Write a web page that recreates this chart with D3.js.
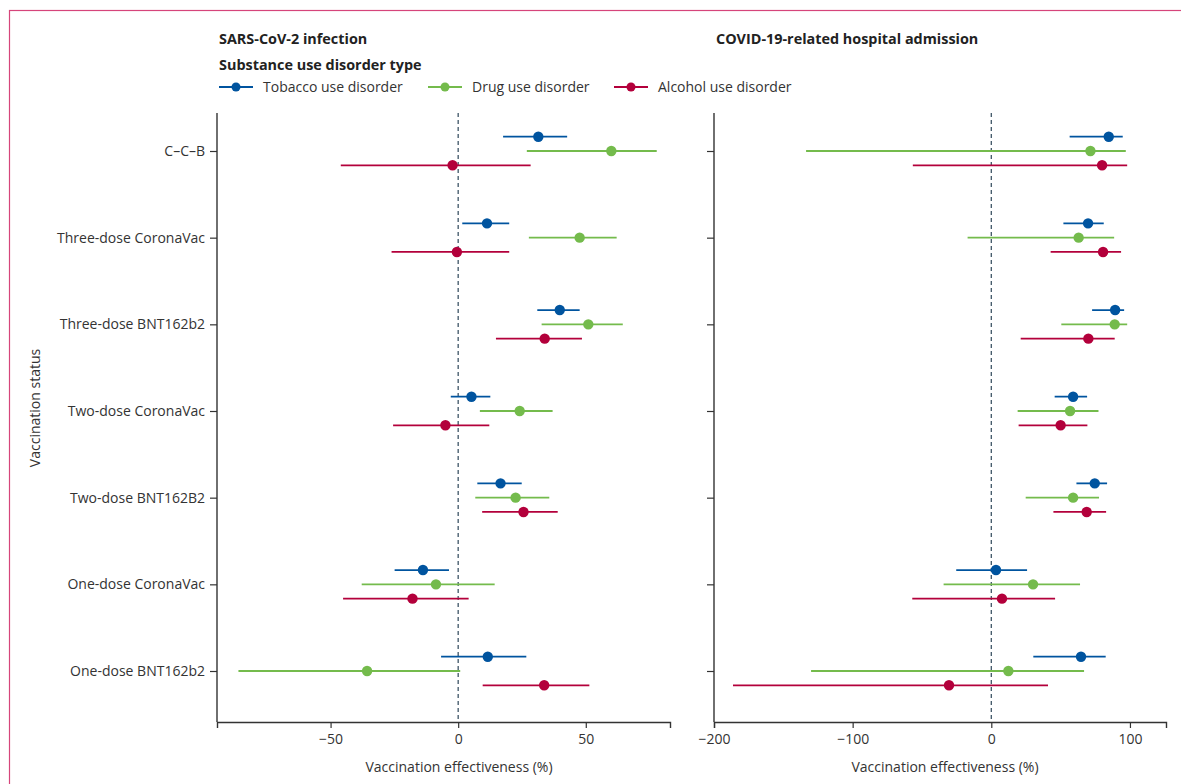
<!DOCTYPE html>
<html>
<head>
<meta charset="utf-8">
<script src="https://cdn.jsdelivr.net/npm/d3@7"></script>
<style>
  body { margin: 0; background: #fff; }
  svg { font-family: 'Open Sans', sans-serif; }
  .tick text { font-size: 14px; fill: #333; font-family: 'Open Sans', sans-serif; }
  .title { font-size: 14.4px; font-weight: 700; fill: #222; }
  .legend text { font-size: 14px; fill: #333; }
  .axisLabel { font-size: 14px; fill: #333; }
</style>
</head>
<body>
<svg id="chart"></svg>
<script>
// vaccination status categories, top to bottom
const categories = [
  'C–C–B',
  'Three-dose CoronaVac',
  'Three-dose BNT162b2',
  'Two-dose CoronaVac',
  'Two-dose BNT162B2',
  'One-dose CoronaVac',
  'One-dose BNT162b2',
];

const seriesNames = ['Tobacco use disorder', 'Drug use disorder', 'Alcohol use disorder'];

// [estimate, lower CI, upper CI] per category
const infectionTobacco = [[31.4, 17.6, 42.7], [11.3, 1.6, 20], [39.8, 31, 47.6], [5.2, -2.9, 12.6], [16.6, 7.5, 24.9], [-13.8, -24.9, -3.6], [11.6, -6.7, 26.7]];
const infectionDrug = [[60, 26.9, 77.8], [47.6, 27.7, 62.1], [51, 32.7, 64.5], [24.1, 8.5, 37], [22.5, 6.7, 35.7], [-8.7, -37.8, 14.3], [-35.7, -86.1, 0.8]];
const infectionAlcohol = [[-2.2, -46, 28.4], [-0.5, -26.1, 20], [33.9, 14.8, 48.5], [-5, -25.5, 12.2], [25.6, 9.4, 39], [-17.9, -45.1, 4.1], [33.7, 9.6, 51.4]];

const hospitalTobacco = [[84.7, 56.5, 94.8], [69.8, 52, 81.1], [89.3, 72.7, 95.8], [59, 45.7, 69.1], [74.6, 61.4, 83.5], [3.4, -25.3, 25.8], [64.7, 30.3, 82.5]];
const hospitalDrug = [[71.5, -133.6, 97], [63, -17.1, 88.6], [89, 50.5, 98], [56.8, 19, 77.3], [59, 24.8, 77.7], [30.1, -34.4, 64], [12.3, -130, 66.9]];
const hospitalAlcohol = [[79.9, -56.6, 98], [80.6, 42.8, 93.6], [70, 21.2, 89], [50, 19.7, 69.3], [68.8, 44.8, 82.8], [7.7, -57, 46], [-30.5, -186.3, 40.9]];

const infectionTicks = [-50, 0, 50];
const hospitalTicks = [-200, -100, 0, 100];

const colors = ['#00549f', '#74bb4c', '#b3003b'];

const width = 1181, height = 784;
const svg = d3.select('#chart').attr('width', width).attr('height', height);

// outer frame
svg.append('rect')
  .attr('x', 9.5).attr('y', 10.5)
  .attr('width', width + 20).attr('height', height + 20)
  .attr('fill', 'none').attr('stroke', '#d6457b').attr('stroke-width', 1.2);

const axisTop = 113, axisBottom = 722;
const y = d3.scalePoint().domain(categories).range([151, 671]);
const offset = 14.3;

const panels = [
  { title: 'SARS-CoV-2 infection', left: 217, right: 670, domain: [-94.5, 83], ticks: infectionTicks,
    series: [infectionTobacco, infectionDrug, infectionAlcohol], labels: true, labelX: 459 },
  { title: 'COVID-19-related hospital admission', left: 714, right: 1166, domain: [-200, 126], ticks: hospitalTicks,
    series: [hospitalTobacco, hospitalDrug, hospitalAlcohol], labels: false, labelX: 945 },
];

panels.forEach(p => {
  const x = d3.scaleLinear().domain(p.domain).range([p.left, p.right]);
  const g = svg.append('g');

  // x axis
  g.append('g')
    .attr('transform', `translate(0,${axisBottom})`)
    .call(d3.axisBottom(x).tickValues(p.ticks).tickSizeOuter(0).tickSize(6).tickPadding(6)
      .tickFormat(d => d < 0 ? '−' + Math.abs(d) : d))
    .attr('font-family', null).attr('font-size', null)
    .call(a => a.select('.domain').attr('stroke', '#333').attr('stroke-width', 1.4))
    .call(a => a.selectAll('.tick line').attr('stroke', '#333').attr('stroke-width', 1.2));

  // y axis
  const yAxis = g.append('g').attr('transform', `translate(${p.left},0)`)
    .call(d3.axisLeft(y).tickSizeOuter(0).tickSize(7).tickPadding(5)
      .tickFormat(p.labels ? d => d : () => ''))
    .attr('font-family', null).attr('font-size', null);
  yAxis.select('.domain').attr('d', `M0,${axisTop}V${axisBottom}`).attr('stroke', '#333').attr('stroke-width', 1.4);
  yAxis.selectAll('.tick line').attr('stroke', '#333').attr('stroke-width', 1.2);

  // reference line at 0
  g.append('line')
    .attr('x1', x(0)).attr('x2', x(0))
    .attr('y1', axisTop).attr('y2', axisBottom)
    .attr('stroke', '#3e5566').attr('stroke-width', 1.3).attr('stroke-dasharray', '4,3');

  p.series.forEach((values, si) => {
    const dy = (si - 1) * offset;
    const sg = g.append('g');
    sg.selectAll('line.ci').data(values).join('line')
      .attr('class', 'ci')
      .attr('x1', d => x(d[1])).attr('x2', d => x(d[2]))
      .attr('y1', (d, i) => y(categories[i]) + dy).attr('y2', (d, i) => y(categories[i]) + dy)
      .attr('stroke', colors[si]).attr('stroke-width', 1.8);
    sg.selectAll('circle').data(values).join('circle')
      .attr('cx', d => x(d[0]))
      .attr('cy', (d, i) => y(categories[i]) + dy)
      .attr('r', 5.2).attr('fill', colors[si]);
  });

  svg.append('text').attr('class', 'title')
    .attr('x', p.left + 2).attr('y', 44).text(p.title);

  svg.append('text').attr('class', 'axisLabel')
    .attr('x', p.labelX).attr('y', 772).attr('text-anchor', 'middle')
    .text('Vaccination effectiveness (%)');
});

// y axis label
svg.append('text').attr('class', 'axisLabel')
  .attr('transform', 'translate(40,408) rotate(-90)')
  .attr('text-anchor', 'middle')
  .text('Vaccination status');

// legend
svg.append('text').attr('class', 'title').attr('x', 219).attr('y', 70).text('Substance use disorder type');
const legendX = [219, 428, 614];
const legend = svg.append('g').attr('class', 'legend');
seriesNames.forEach((name, i) => {
  const lg = legend.append('g').attr('transform', `translate(${legendX[i]},87)`);
  lg.append('line').attr('x1', 0).attr('x2', 34).attr('stroke', colors[i]).attr('stroke-width', 1.8);
  lg.append('circle').attr('cx', 17).attr('r', 4.5).attr('fill', colors[i]);
  lg.append('text').attr('x', 44).attr('y', 5).text(name);
});
</script>
</body>
</html>
